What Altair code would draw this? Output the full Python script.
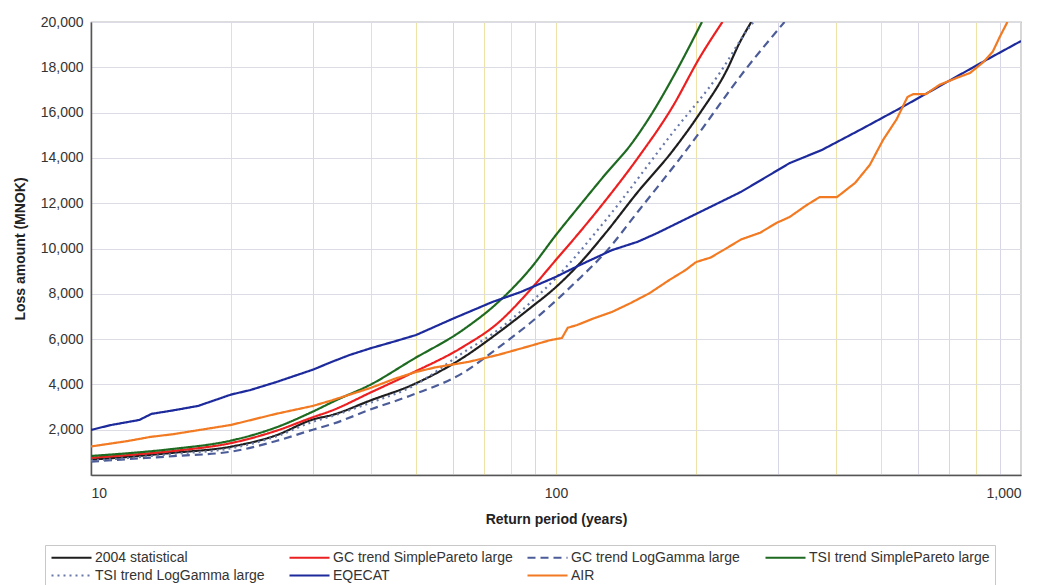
import altair as alt
import pandas as pd

# ---- data ----
SERIES = [
    "2004 statistical",
    "GC trend SimplePareto large",
    "GC trend LogGamma large",
    "TSI trend SimplePareto large",
    "TSI trend LogGamma large",
    "EQECAT",
    "AIR",
]

STAT_RP = [10, 12, 15, 20, 25, 30, 33, 40, 49, 63, 75, 88, 100, 112, 128, 150, 178, 204, 233, 248, 263]
STAT_LOSS = [680, 800, 980, 1250, 1750, 2450, 2650, 3300, 3970, 5170, 6270, 7370, 8300, 9300, 10700, 12500, 14300, 15980, 17880, 19070, 20000]

GCSP_RP = [10, 12, 15, 20, 25, 30, 33, 40, 49, 63, 75, 88, 100, 112, 128, 150, 178, 204, 228]
GCSP_LOSS = [760, 880, 1060, 1410, 1950, 2550, 2850, 3650, 4500, 5650, 6710, 8170, 9500, 10680, 12140, 14000, 16250, 18450, 20000]

GCLG_RP = [10, 12, 15, 20, 25, 30, 33, 40, 49, 63, 75, 88, 100, 110, 128, 151, 190, 258, 310]
GCLG_LOSS = [590, 700, 830, 1030, 1500, 2000, 2250, 2900, 3530, 4500, 5610, 6710, 7700, 8500, 9850, 11700, 14300, 18010, 20000]

TSISP_RP = [10, 12, 15, 20, 25, 30, 33.5, 40, 49, 63, 75, 88, 100, 112, 128, 145, 159, 180, 206]
TSISP_LOSS = [840, 960, 1150, 1520, 2100, 2800, 3280, 4000, 5080, 6400, 7620, 9100, 10600, 11850, 13300, 14600, 15800, 17700, 20000]

TSILG_RP = [10, 12, 15, 20, 25, 30, 33, 40, 49, 63, 75, 88, 100, 128, 178, 225, 258, 266]
TSILG_LOSS = [640, 750, 930, 1180, 1700, 2350, 2600, 3200, 3900, 5390, 6400, 7600, 8700, 11260, 15100, 17750, 19650, 20000]

EQE_RP = [10, 11, 12.7, 13.5, 15, 17, 20, 22, 25, 30, 33, 36, 40, 45, 50, 60, 73, 84, 100, 112, 132, 150, 165, 194, 250, 318, 373, 450, 556, 700, 850, 1000]
EQE_LOSS = [1990, 2200, 2430, 2700, 2850, 3050, 3550, 3750, 4100, 4650, 5000, 5300, 5600, 5900, 6180, 6900, 7640, 8080, 8750, 9250, 9930, 10300, 10680, 11390, 12500, 13770, 14350, 15230, 16250, 17400, 18370, 19160]

AIR_RP = [10, 12, 13.4, 15, 20, 25, 30, 33, 40, 45, 50, 55, 65, 75, 88, 97, 103, 106, 111, 120, 132, 145, 159, 175, 190, 200, 215, 233, 250, 275, 298, 318, 345, 369, 402, 440, 473, 505, 540, 570, 587, 625, 667, 727, 777, 830, 870, 900, 935]
AIR_LOSS = [1260, 1500, 1680, 1800, 2210, 2700, 3050, 3300, 3850, 4250, 4550, 4750, 5000, 5300, 5700, 5950, 6050, 6500, 6620, 6900, 7200, 7600, 8030, 8600, 9050, 9400, 9600, 10020, 10400, 10700, 11130, 11390, 11900, 12270, 12270, 12900, 13690, 14790, 15700, 16690, 16820, 16820, 17220, 17530, 17750, 18230, 18700, 19340, 20100]

COLORS = ["#1e1e1e", "#ec2020", "#4c5c98", "#1d6a20", "#6878a8", "#1c2a9c", "#f27a22"]
DASHES = [[1, 0], [1, 0], [8, 5], [1, 0], [2, 4], [1, 0], [1, 0]]

X_GRID = [10, 20, 30, 40, 50, 60, 70, 80, 90, 100, 200, 300, 400, 500, 600, 700, 800, 900, 1000]
Y_TICKS = [2000, 4000, 6000, 8000, 10000, 12000, 14000, 16000, 18000, 20000]

SMOOTH = SERIES[:5]

pairs = [
    (STAT_RP, STAT_LOSS), (GCSP_RP, GCSP_LOSS), (GCLG_RP, GCLG_LOSS),
    (TSISP_RP, TSISP_LOSS), (TSILG_RP, TSILG_LOSS), (EQE_RP, EQE_LOSS), (AIR_RP, AIR_LOSS),
]
rows = []
for name, (rp, loss) in zip(SERIES, pairs):
    for i, (a, b) in enumerate(zip(rp, loss)):
        rows.append({"series": name, "rp": a, "loss": min(b, 20000), "order": i})
df = pd.DataFrame(rows)

FONT = "Liberation Sans"

x_enc = alt.X(
    "rp:Q",
    scale=alt.Scale(type="log", domain=[10, 1000], nice=False),
    axis=alt.Axis(
        title="Return period (years)",
        values=X_GRID,
        labelExpr="indexof([10,100,1000], datum.value) >= 0 ? format(datum.value, ',.0f') : ''",
        gridColor={
            "condition": {
                "test": "indexof([20,40,50,70,80,100,200,400,500,800], datum.value) >= 0",
                "value": "#efe2a6",
            },
            "value": "#d6d6e6",
        },
        ticks=False,
        labelPadding=11,
        titlePadding=12,
    ),
)
y_enc = alt.Y(
    "loss:Q",
    scale=alt.Scale(domain=[0, 20000], nice=False),
    axis=alt.Axis(
        title="Loss amount (MNOK)",
        values=Y_TICKS,
        format=",.0f",
        gridColor="#dcdce4",
        ticks=False,
        labelPadding=8,
        titlePadding=13,
    ),
)
color_enc = alt.Color(
    "series:N",
    scale=alt.Scale(domain=SERIES, range=COLORS),
    sort=SERIES,
    legend=alt.Legend(
        title=None,
        orient="none",
        legendX=-46,
        legendY=523,
        direction="horizontal",
        columns=4,
        gridAlign="all",
        symbolType="M-1,0H5.67",
        symbolSize=144,
        symbolStrokeWidth=2.2,
        labelFontSize=14,
        labelFont=FONT,
        labelColor="#333",
        labelLimit=400,
        labelOffset=30,
        columnPadding=9,
        rowPadding=3,
        padding=5,
        strokeColor="#c8c8c8",
    ),
)
dash_enc = alt.StrokeDash(
    "series:N",
    scale=alt.Scale(domain=SERIES, range=DASHES),
    sort=SERIES,
    legend=alt.Legend(title=None),
)

smooth = alt.Chart(df).transform_filter(
    alt.FieldOneOfPredicate(field="series", oneOf=SMOOTH)
).mark_line(strokeWidth=2.2, clip=True, interpolate="monotone").encode(
    x=x_enc, y=y_enc, color=color_enc, strokeDash=dash_enc, order="order:Q"
)
rough = alt.Chart(df).transform_filter(
    alt.FieldOneOfPredicate(field="series", oneOf=SERIES[5:])
).mark_line(strokeWidth=2.2, clip=True).encode(
    x=x_enc, y=y_enc, color=color_enc, strokeDash=dash_enc, order="order:Q"
)

chart = alt.layer(smooth, rough).properties(
    width=930,
    height=453,
    autosize=alt.AutoSizeParams(type="none"),
    padding={"left": 83, "top": 14, "right": 13, "bottom": 110},
).configure_view(
    stroke="#7a7a7a", strokeWidth=1.2
).configure_axis(
    labelFont=FONT, titleFont=FONT, labelFontSize=14, titleFontSize=14,
    labelColor="#333", titleColor="#222", domainColor="#555", domainWidth=1.5,
    titleFontWeight="bold", gridWidth=1,
)

chart.save("out.html", embed_options={"renderer": "svg", "actions": False})
